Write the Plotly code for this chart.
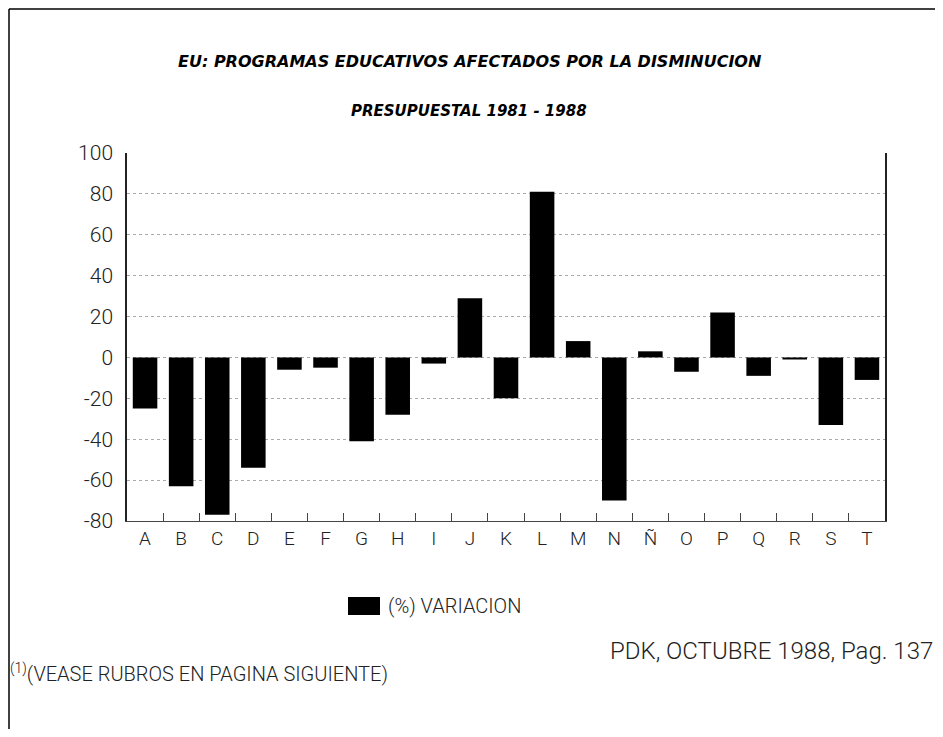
import plotly.graph_objects as go

categories = ["A", "B", "C", "D", "E", "F", "G", "H", "I", "J",
              "K", "L", "M", "N", "Ñ", "O", "P", "Q", "R", "S", "T"]
variacion = [-25, -63, -77, -54, -6, -5, -41, -28, -3, 29,
             -20, 81, 8, -70, 3, -7, 22, -9, -1, -33, -11]
y_ticks = [100, 80, 60, 40, 20, 0, -20, -40, -60, -80]
y_tick_text = ["100", "80", "60", "40", "20", "0", "-20", "-40", "-60", "-80"]

title_1 = "EU: PROGRAMAS EDUCATIVOS AFECTADOS POR LA DISMINUCION"
title_2 = "PRESUPUESTAL 1981 - 1988"
legend_label = "(%) VARIACION"
source = "PDK, OCTUBRE 1988, Pag. 137"
footnote = "<sup>(1)</sup>(VEASE RUBROS EN PAGINA SIGUIENTE)"

# page body has an 8px margin: work in div coordinates
OFF = 8
W, H = 943 - 2 * OFF, 737 - 2 * OFF
L, R, T, B = 127 - OFF, 885 - OFF, 153 - OFF, 521 - OFF


def px(x):
    return (x - OFF - L) / (R - L)


def py(y):
    return (B - (y - OFF)) / (B - T)


light = dict(family="Roboto", size=19, color="#222222", weight=300)

fig = go.Figure()
fig.add_trace(go.Bar(x=categories, y=variacion, name=legend_label,
                     marker=dict(color="black", line=dict(width=0)),
                     width=0.68, showlegend=False))

fig.update_layout(
    width=W, height=H,
    margin=dict(l=L, r=W - R, t=T, b=H - B),
    paper_bgcolor="white", plot_bgcolor="white",
    xaxis=dict(type="category", showline=True, linecolor="#444", linewidth=1,
               ticks="inside", tickson="boundaries", ticklen=8, tickcolor="#444",
               tickfont=light, showgrid=False),
    yaxis=dict(range=[-80, 100], tickvals=y_ticks, ticktext=y_tick_text,
               showline=True, mirror=True,
               linecolor="#222", linewidth=1.5, showgrid=True, gridcolor="#aaa",
               griddash="dot", gridwidth=1, zeroline=False,
               tickfont=dict(family="Roboto", size=21, color="#222", weight=300),
               ticks="", ticklabelstandoff=8),
    font=dict(family="Roboto"),
)

fig.add_annotation(x=px(470), y=py(61), xref="paper", yref="paper", text=title_1,
                   showarrow=False,
                   font=dict(family="DejaVu Sans", size=16, color="black", weight="bold", style="italic"),
                   xanchor="center", yanchor="middle")
fig.add_annotation(x=px(469), y=py(111), xref="paper", yref="paper", text=title_2,
                   showarrow=False,
                   font=dict(family="DejaVu Sans", size=15, color="black", weight="bold", style="italic"),
                   xanchor="center", yanchor="middle")

# legend swatch and label
fig.add_shape(type="rect", xref="paper", yref="paper", x0=px(348), x1=px(380),
              y0=py(615), y1=py(597), fillcolor="black", line=dict(width=0))
fig.add_annotation(x=px(386), y=py(606), xref="paper", yref="paper", text=legend_label,
                   showarrow=False, font=dict(family="Roboto", size=20, color="#222", weight=300),
                   xanchor="left", yanchor="middle")

fig.add_annotation(x=px(935), y=py(651), xref="paper", yref="paper", text=source,
                   showarrow=False, font=dict(family="Roboto", size=24, color="#222", weight=300),
                   xanchor="right", yanchor="middle")
fig.add_annotation(x=px(8), y=py(673), xref="paper", yref="paper", text=footnote,
                   showarrow=False, font=dict(family="Roboto", size=20, color="#222", weight=300),
                   xanchor="left", yanchor="middle")

# page border lines
fig.add_shape(type="line", xref="paper", yref="paper", x0=px(9), x1=px(935),
              y0=py(9), y1=py(9), line=dict(color="black", width=1.5))
fig.add_shape(type="line", xref="paper", yref="paper", x0=px(9), x1=px(9),
              y0=py(9), y1=py(729), line=dict(color="black", width=1.5))

fig.write_html("out.html")
